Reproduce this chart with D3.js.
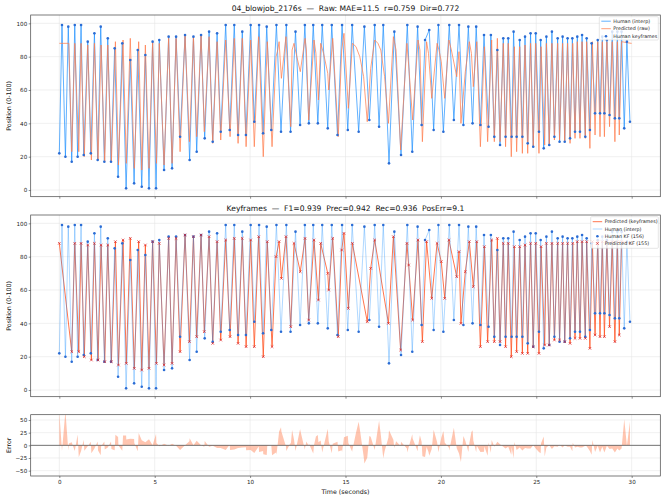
<!DOCTYPE html>
<html>
<head>
<meta charset="utf-8">
<script src="https://cdn.jsdelivr.net/npm/d3@7"></script>
<style>
  body { margin: 0; background: #fff; }
  text { font-family: "DejaVu Sans", sans-serif; white-space: pre; }
</style>
</head>
<body>
<svg width="666" height="500"></svg>
<script>
// human keyframes [time s, position]
const humanKF = [
  [0.00,22],[0.14,99],[0.32,20],[0.47,98],[0.65,17],[0.81,99],[0.96,20],[1.14,99],[1.28,21],[1.49,89],
  [1.65,22],[1.84,94],[2.01,18],[2.17,98],[2.36,17],[2.54,91],[2.71,17],[2.90,85],[3.08,8],[3.30,88],
  [3.50,1],[3.72,78],[3.92,4],[4.11,84],[4.32,2],[4.51,81],[4.70,1],[4.89,89],[5.07,1],[5.24,90],
  [5.49,12],[5.73,92],[5.91,13],[6.12,92],[6.33,32],[6.59,93],[6.83,18],[7.03,92],[7.20,23],[7.43,93],
  [7.62,31],[7.85,95],[8.04,29],[8.27,94],[8.46,35],[8.72,99],[8.93,36],[9.17,99],[9.37,33],[9.59,95],
  [9.78,33],[10.03,99],[10.22,41],[10.47,99],[10.68,34],[10.87,98],[11.11,36],[11.38,99],[11.62,35],[11.90,99],
  [12.12,35],[12.38,95],[12.62,39],[12.87,99],[13.08,40],[13.31,99],[13.55,40],[13.78,99],[14.07,37],[14.28,99],
  [14.58,33],[14.82,99],[15.12,36],[15.35,99],[15.69,35],[15.99,98],[16.25,42],[16.53,99],[16.76,38],[16.98,99],
  [17.28,16],[17.56,95],[17.91,21],[18.24,99],[18.50,23],[18.78,98],[18.99,39],[19.17,90],[19.39,96],[19.62,36],
  [19.87,99],[20.13,35],[20.44,99],[20.68,42],[20.95,99],[21.18,39],[21.44,98],[21.66,40],[21.85,98],[22.07,39],
  [22.26,93],[22.50,38],[22.62,93],[22.80,32],[22.96,84],[23.10,27],[23.27,91],[23.39,32],[23.53,91],[23.71,32],
  [23.81,95],[23.97,32],[24.13,90],[24.27,32],[24.41,92],[24.55,28],[24.70,94],[24.84,26],[24.97,94],[25.14,35],
  [25.23,90],[25.39,25],[25.53,92],[25.68,27],[25.82,95],[25.95,32],[26.12,91],[26.22,29],[26.38,92],[26.49,29],
  [26.64,91],[26.77,31],[26.89,91],[27.03,35],[27.15,92],[27.29,35],[27.40,93],[27.57,32],[27.64,91],[27.81,36],
  [27.90,88],[28.08,46],[28.22,90],[28.34,46],[28.46,92],[28.57,46],[28.70,90],[28.84,45],[28.98,95],[29.12,43],
  [29.25,95],[29.35,43],[29.47,95],[29.61,37],[29.75,89],[29.91,41]
];

// predicted keyframes [time s, position]
const predKF = [
  [0.00,88],[0.65,23],[0.81,88],[1.02,23],[1.14,88],[1.31,20],[1.49,87],[1.68,18],[1.84,88],[2.03,18],
  [2.19,87],[2.38,17],[2.54,87],[2.73,17],[2.94,89],[3.10,15],[3.34,90],[3.51,16],[3.72,91],[3.93,13],
  [4.16,89],[4.32,12],[4.51,87],[4.70,13],[4.89,89],[5.09,16],[5.24,88],[5.49,15],[5.73,91],[5.91,16],
  [6.12,91],[6.33,23],[6.59,93],[6.82,29],[7.03,92],[7.20,32],[7.43,93],[7.60,35],[7.85,92],[8.04,28],
  [8.27,89],[8.46,30],[8.72,90],[8.95,32],[9.17,91],[9.37,28],[9.59,91],[9.79,26],[10.03,90],[10.22,26],
  [10.45,92],[10.69,20],[10.90,89],[11.15,26],[11.36,80],[11.52,89],[11.64,67],[11.88,92],[12.13,38],[12.30,88],
  [12.63,71],[12.88,91],[13.07,42],[13.35,90],[13.58,54],[13.70,88],[14.07,70],[14.12,60],[14.33,91],[14.62,32],
  [14.80,84],[14.92,94],[15.15,49],[15.36,88],[16.14,41],[16.32,73],[16.53,90],[17.25,40],[17.51,92],[17.89,24],
  [18.22,88],[18.31,75],[18.52,42],[18.80,90],[19.03,29],[19.25,89],[19.52,55],[19.80,88],[20.02,77],[20.20,55],
  [20.42,90],[20.83,68],[20.95,83],[21.05,40],[21.28,71],[21.49,89],[21.70,62],[21.88,89],[22.07,26],[22.28,86],
  [22.45,29],[22.66,90],[22.80,29],[22.96,91],[23.10,29],[23.27,88],[23.39,26],[23.53,88],[23.69,20],[23.85,86],
  [23.97,23],[24.13,86],[24.27,22],[24.41,87],[24.55,22],[24.70,88],[24.84,26],[24.97,88],[25.14,22],[25.25,86],
  [25.44,27],[25.53,88],[25.68,27],[25.82,88],[25.95,30],[26.12,88],[26.22,30],[26.38,88],[26.49,29],[26.64,88],
  [26.77,28],[26.91,88],[27.03,31],[27.15,89],[27.29,31],[27.40,89],[27.57,31],[27.64,89],[27.81,25],[27.94,89],
  [28.08,33],[28.22,89],[28.34,32],[28.46,89],[28.57,32],[28.70,89],[28.84,38],[28.98,89],[29.12,29],[29.25,89],
  [29.35,33],[29.47,89],[29.97,88]
];

// extra points of the raw prediction that are not keyframes
const rawExtra = [
  [0.50,88],[11.45,84],[12.20,84],[12.45,80],[12.95,84],[13.45,82],[13.85,82],
  [15.55,86],[15.75,80],[15.95,68],[16.70,88],[16.85,84],[17.05,68],[17.65,84],
  [18.90,84],[19.35,82],[19.90,84],[20.55,84],[21.60,82],[30.00,88]
];

const posTicks = [0, 20, 40, 60, 80, 100];
const errTicks = [-50, -25, 0, 25, 50];
const timeTicks = [0, 5, 10, 15, 20, 25, 30];

const titleTop = "04_blowjob_2176s  \u2014  Raw: MAE=11.5  r=0.759  Dir=0.772";
const titleMid = "Keyframes  \u2014  F1=0.939  Prec=0.942  Rec=0.936  PosErr=9.1";

const svg = d3.select("svg");
svg.append("rect").attr("width", 666).attr("height", 500).attr("fill", "#fff");

const left = 30.7, right = 660.3;
const x = d3.scaleLinear().domain([-1.5, 31.5]).range([left, right]);
const yTop = d3.scaleLinear().domain([-4, 105]).range([196.7, 15]);
const yMid = d3.scaleLinear().domain([-4, 105]).range([396.7, 215]);
const yErr = d3.scaleLinear().domain([-60.5, 60.5]).range([476, 414.7]);

const blue = "#1e90ff";
const dotBlue = "#2b6cd4";
const coral = "#ff7f50";
const orangeRed = "#ff5322";
const xRed = "#dd2222";

// grid, ticks
function drawAxes(y, yTicks, xLabels) {
    const [y1, y0] = y.range();
    const g = svg.append("g");
    g.selectAll(".hg").data(yTicks).join("line")
        .attr("x1", left).attr("x2", right)
        .attr("y1", d => y(d)).attr("y2", d => y(d))
        .attr("stroke", "#e6e6e6").attr("stroke-width", 0.6);
    g.selectAll(".vg").data(timeTicks).join("line")
        .attr("x1", d => x(d)).attr("x2", d => x(d))
        .attr("y1", y0).attr("y2", y1)
        .attr("stroke", "#e6e6e6").attr("stroke-width", 0.6);

    const ya = g.append("g").attr("transform", `translate(${left},0)`)
        .call(d3.axisLeft(y).tickValues(yTicks).tickSize(2).tickPadding(1.5));
    const xa = g.append("g").attr("transform", `translate(0,${y1})`)
        .call(d3.axisBottom(x).tickValues(timeTicks).tickSize(2).tickPadding(2)
            .tickFormat(xLabels ? d3.format("d") : ""));
    [ya, xa].forEach(a => {
        a.select(".domain").remove();
        a.selectAll("line").attr("stroke", "#444").attr("stroke-width", 0.6);
        a.selectAll("text").attr("font-size", "5.6px").attr("fill", "#222");
    });
    return g;
}

function frame(y) {
    const [y1, y0] = y.range();
    svg.append("rect")
        .attr("x", left).attr("y", y0)
        .attr("width", right - left).attr("height", y1 - y0)
        .attr("fill", "none").attr("stroke", "#444").attr("stroke-width", 0.7);
}

function clipFor(id, y) {
    const [y1, y0] = y.range();
    svg.append("clipPath").attr("id", id).append("rect")
        .attr("x", left).attr("y", y0).attr("width", right - left).attr("height", y1 - y0);
}

function legend(x0, y0, w, h, rowY, items) {
    const g = svg.append("g");
    g.append("rect").attr("x", x0).attr("y", y0).attr("width", w).attr("height", h)
        .attr("rx", 1).attr("fill", "#fff").attr("fill-opacity", 0.8)
        .attr("stroke", "#cccccc").attr("stroke-width", 0.5);
    items.forEach((it, i) => {
        const yy = y0 + rowY[i];
        if (it.type === "line") {
            g.append("line").attr("x1", x0 + 2).attr("x2", x0 + 11.5).attr("y1", yy).attr("y2", yy)
                .attr("stroke", it.color).attr("stroke-opacity", it.op).attr("stroke-width", 1);
        } else if (it.type === "dot") {
            g.append("circle").attr("cx", x0 + 6.7).attr("cy", yy).attr("r", 1.3).attr("fill", it.color);
        } else {
            g.append("path").attr("transform", `translate(${x0 + 6.7},${yy})`)
                .attr("d", "M-1.3,-1.3L1.3,1.3M-1.3,1.3L1.3,-1.3")
                .attr("stroke", it.color).attr("stroke-width", 0.7);
        }
        g.append("text").attr("x", x0 + 14).attr("y", yy).attr("dy", "0.35em")
            .attr("font-size", "4.8px").attr("fill", "#222").text(it.label);
    });
}

const rawSeries = predKF.concat(rawExtra).sort((a, b) => a[0] - b[0]);

// ---------- top panel ----------
drawAxes(yTop, posTicks, false);
clipFor("clipTop", yTop);
const lineTop = d3.line().x(d => x(d[0])).y(d => yTop(d[1]));
const gTop = svg.append("g").attr("clip-path", "url(#clipTop)");
gTop.append("path").datum(humanKF).attr("d", lineTop)
    .attr("fill", "none").attr("stroke", blue).attr("stroke-opacity", 0.7).attr("stroke-width", 1);
gTop.append("path").datum(rawSeries).attr("d", lineTop)
    .attr("fill", "none").attr("stroke", coral).attr("stroke-opacity", 0.75).attr("stroke-width", 1);
gTop.selectAll("circle").data(humanKF).join("circle")
    .attr("cx", d => x(d[0])).attr("cy", d => yTop(d[1])).attr("r", 1.3).attr("fill", dotBlue);
frame(yTop);
legend(599.3, 16.7, 59, 23.3, [4.5, 12, 19.5], [
    { type: "line", color: blue, op: 0.7, label: "Human (interp)" },
    { type: "line", color: coral, op: 0.75, label: "Predicted (raw)" },
    { type: "dot", color: dotBlue, label: "Human keyframes" },
]);

// ---------- middle panel ----------
drawAxes(yMid, posTicks, false);
clipFor("clipMid", yMid);
const lineMid = d3.line().x(d => x(d[0])).y(d => yMid(d[1]));
const gMid = svg.append("g").attr("clip-path", "url(#clipMid)");
gMid.append("path").datum(predKF).attr("d", lineMid)
    .attr("fill", "none").attr("stroke", orangeRed).attr("stroke-opacity", 0.8).attr("stroke-width", 1);
gMid.append("path").datum(humanKF).attr("d", lineMid)
    .attr("fill", "none").attr("stroke", blue).attr("stroke-opacity", 0.35).attr("stroke-width", 1);
gMid.selectAll("circle").data(humanKF).join("circle")
    .attr("cx", d => x(d[0])).attr("cy", d => yMid(d[1])).attr("r", 1.3).attr("fill", dotBlue);
gMid.selectAll("path.xm").data(predKF).join("path").attr("class", "xm")
    .attr("transform", d => `translate(${x(d[0])},${yMid(d[1])})`)
    .attr("d", "M-1.3,-1.3L1.3,1.3M-1.3,1.3L1.3,-1.3")
    .attr("stroke", xRed).attr("stroke-width", 0.7);
frame(yMid);
legend(590.7, 216.7, 67.6, 31.6, [5, 12.3, 19.6, 26.8], [
    { type: "line", color: orangeRed, op: 0.8, label: "Predicted (keyframes)" },
    { type: "line", color: blue, op: 0.35, label: "Human (interp)" },
    { type: "dot", color: dotBlue, label: "Human KF (156)" },
    { type: "x", color: xRed, label: "Predicted KF (155)" },
]);

// ---------- error panel ----------
drawAxes(yErr, errTicks, true);
const humanAt = d3.scaleLinear().domain(humanKF.map(d => d[0])).range(humanKF.map(d => d[1])).clamp(true);
const rawAt = d3.scaleLinear().domain(rawSeries.map(d => d[0])).range(rawSeries.map(d => d[1])).clamp(true);
const tEnd = humanKF[humanKF.length - 1][0];
const errTimes = Array.from(new Set(humanKF.concat(rawSeries).map(d => d[0])))
    .filter(t => t <= tEnd).sort((a, b) => a - b);
const errSeries = errTimes.map(t => [t, rawAt(t) - humanAt(t)]);
clipFor("clipErr", yErr);
svg.append("g").attr("clip-path", "url(#clipErr)")
    .append("path").datum(errSeries)
    .attr("d", d3.area().x(d => x(d[0])).y0(yErr(0)).y1(d => yErr(d[1])))
    .attr("fill", coral).attr("fill-opacity", 0.45).attr("stroke", "none");
svg.append("line").attr("x1", left).attr("x2", right).attr("y1", yErr(0)).attr("y2", yErr(0))
    .attr("stroke", "#555").attr("stroke-width", 0.8);
frame(yErr);

// ---------- texts ----------
svg.append("text").attr("x", (left + right) / 2).attr("y", 11).attr("text-anchor", "middle")
    .attr("font-size", "7.6px").attr("fill", "#111").text(titleTop);
svg.append("text").attr("x", (left + right) / 2).attr("y", 211).attr("text-anchor", "middle")
    .attr("font-size", "7.6px").attr("fill", "#111").text(titleMid);
svg.append("text").attr("x", (left + right) / 2).attr("y", 494).attr("text-anchor", "middle")
    .attr("font-size", "6.3px").attr("fill", "#111").text("Time (seconds)");
[["Position (0-100)", (15 + 196.7) / 2], ["Position (0-100)", (215 + 396.7) / 2], ["Error", (414.7 + 476) / 2]]
    .forEach(([label, cy]) => {
        svg.append("text").attr("transform", `translate(10.5,${cy}) rotate(-90)`)
            .attr("text-anchor", "middle").attr("font-size", "6.3px").attr("fill", "#111").text(label);
    });
</script>
</body>
</html>
